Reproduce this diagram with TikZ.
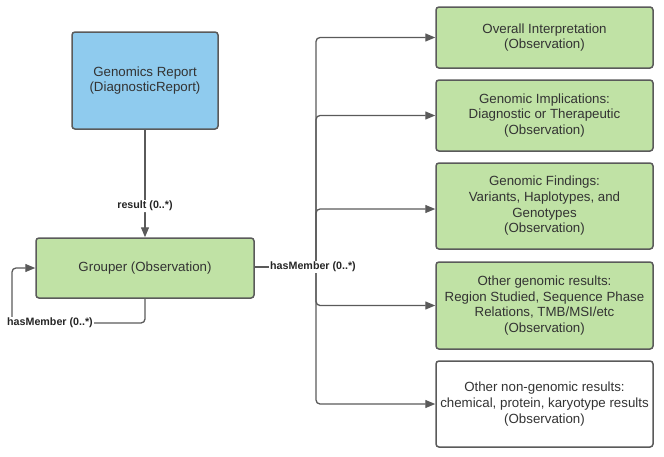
\documentclass[tikz,border=0pt]{standalone}
\usepackage{fontspec}
\setmainfont{Liberation Sans}
\usetikzlibrary{arrows.meta}
\definecolor{boxblue}{RGB}{143,203,238}
\definecolor{boxgreen}{RGB}{192,226,165}
\definecolor{edgegray}{RGB}{90,90,90}
\definecolor{txtgray}{RGB}{51,51,51}
\tikzset{
  box/.style={draw=edgegray, line width=1.5pt, rounded corners=3pt, align=center,
    text=txtgray, font=\fontsize{13.3}{15.7}\selectfont, inner sep=2pt},
  greenbox/.style={box, fill=boxgreen},
  whitebox/.style={box, fill=white},
  bluebox/.style={box, fill=boxblue},
  conn/.style={draw=edgegray, line width=1.3pt, rounded corners=4pt},
  arr/.style={conn, -{Triangle[length=10pt,width=8pt]}},
  lbl/.style={fill=white, text=black!85, font=\bfseries\fontsize{10.7}{12}\selectfont, inner sep=1pt}
}
\begin{document}
\begin{tikzpicture}[x=1pt,y=-1pt]
\useasboundingbox (0,0) rectangle (664,456);
\node[bluebox, minimum width=146pt, minimum height=97pt] (rep) at (145,80.5) {Genomics Report\\(DiagnosticReport)};
\node[greenbox, minimum width=218pt, minimum height=60pt] (grp) at (145,268) {Grouper (Observation)};
\node[greenbox, minimum width=217pt, minimum height=61pt] (b1) at (544.5,37.5) {Overall Interpretation\\(Observation)};
\node[greenbox, minimum width=217pt, minimum height=71pt] (b2) at (544.5,115.5) {Genomic Implications:\\Diagnostic or Therapeutic\\(Observation)};
\node[greenbox, minimum width=217pt, minimum height=86pt] (b3) at (544.5,206) {Genomic Findings:\\Variants, Haplotypes, and\\Genotypes\\(Observation)};
\node[greenbox, minimum width=217pt, minimum height=87pt] (b4) at (544.5,305.5) {Other genomic results:\\Region Studied, Sequence Phase\\Relations, TMB/MSI/etc\\(Observation)};
\node[whitebox, minimum width=217pt, minimum height=86pt] (b5) at (544.5,404) {Other non-genomic results:\\chemical, protein, karyotype results\\(Observation)};
% result arrow
\draw[arr] (rep.south) -- (grp.north) node[lbl, pos=0.71] (lres) {result (0..*)};
% self loop
\coordinate (l1) at (145,323);
\coordinate (l2) at (12,323);
\coordinate (l3) at (12,268);
\draw[arr] (grp.south) -- (l1) -- (l2) -- (l3) -- (grp.west);
\node[lbl] (lself) at (50,323) {hasMember (0..*)};
% members
\coordinate (j) at (316,267);
\draw[conn] (grp.east |- j) -- (j);
\draw[arr] (j) |- (b1.west);
\draw[arr] (j) |- (b2.west);
\draw[arr] (j) |- ([yshift=-3pt]b3.west);
\draw[arr] (j) |- (b4.west);
\draw[arr] (j) |- (b5.west);
\node[lbl] (lmem) at (313,267) {hasMember (0..*)};
\end{tikzpicture}
\end{document}
